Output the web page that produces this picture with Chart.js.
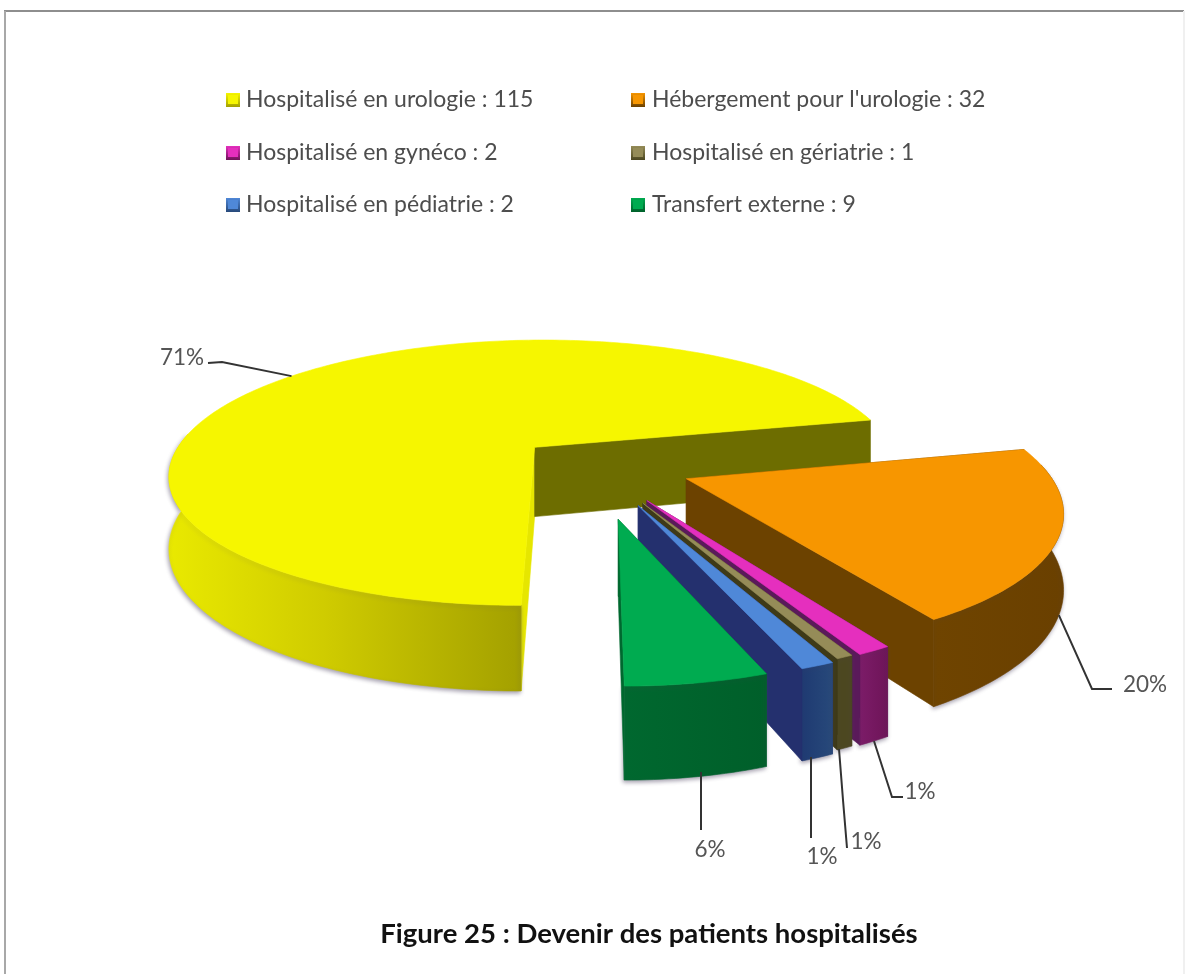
<!DOCTYPE html>
<html lang="fr">
<head>
<meta charset="utf-8">
<title>Devenir des patients hospitalisés</title>
<script src="https://cdn.jsdelivr.net/npm/chart.js@4"></script>
<style>html,body{margin:0;padding:0;background:#fff}canvas{display:block;filter:blur(0.5px)}</style>
</head>
<body>
<canvas id="c" width="1186" height="974"></canvas>
<script>
const categories = ["Hospitalisé en urologie","Hébergement pour l'urologie","Hospitalisé en gynéco","Hospitalisé en gériatrie","Hospitalisé en pédiatrie","Transfert externe"];
const values = [115,32,2,1,2,9];
const figureTitle = "Figure 25 : Devenir des patients hospitalisés";

/* styling and layout */
const topColors   = ["#f6f600","#f79600","#e52fbe","#958c58","#4f88d8","#00ab50"];
const wallLeft    = ["#e9e900","#6f4400","#7c1c68","#4c4720","#1f3a72","#00682f"];
const wallRight   = ["#a3a000","#6a4000","#6e1458","#4c4720","#27497a","#005f2a"];
const faceColors  = ["#6d6d00","#6c4200","#5a1a5a","#3e3a18","#24306e","#00682f"];
const sliverColors= ["#e6e600","#6c4200","#5a1a5a","#3e3a18","#24306e","#00682f"];
const explode     = [0.20,0.27,0.29,0.30,0.31,0.38];   // fraction of radius
const radiusScale = [0.98,0.96,0.935,0.92,0.92,0.85];
const RADIUS = 373, PERSP = 0.2, FLAT = 137, DEPTH = 71;
const legendCols = [[226,246],[631,652]], legendRows = [100,153,205];
// leader-line routing and text anchor for each percentage label
const leaders = [
  {from:"top",  elbow:[222,362], end:[208,363], text:[182,358]},
  {from:"wall", elbow:[1092,689], end:[1112,689], text:[1145,685]},
  {from:"wall", elbow:[892,797], end:[903,797], text:[920,792]},
  {start:[839,749], elbow:[843,800], end:[847,848], text:[866,842]},
  {start:[811,757], elbow:[811,800], end:[811,838], text:[822,857]},
  {start:[701,772], elbow:[701,800], end:[701,830], text:[710,850]}
];

const total = values.reduce((a,b)=>a+b,0);

function projector(el, i){
  return (a, r, z) => {
    const d = explode[i];
    const mid = (el.startAngle + el.endAngle)/2;
    const u = d*Math.cos(mid) + r*radiusScale[i]*Math.cos(a);
    const v = d*Math.sin(mid) + r*radiusScale[i]*Math.sin(a);
    const s = 1/(1 - PERSP*v);
    return [el.x + el.outerRadius*u*s, el.y + FLAT*v*s + z*DEPTH*s];
  };
}
function poly(ctx, pts, fill){
  ctx.beginPath();
  pts.forEach((p,k)=> k?ctx.lineTo(p[0],p[1]):ctx.moveTo(p[0],p[1]));
  ctx.closePath();
  ctx.fillStyle = fill; ctx.strokeStyle = fill; ctx.lineWidth = 0.6;
  ctx.fill(); ctx.stroke();
}
const pie3d = {
  id:'pie3d',
  beforeDraw(chart){
    const ctx = chart.ctx;
    ctx.save();
    ctx.fillStyle = '#fff'; ctx.fillRect(0,0,chart.width,chart.height);
    ctx.lineWidth = 2;
    ctx.strokeStyle = '#8e8e8e'; ctx.beginPath(); ctx.moveTo(4,11); ctx.lineTo(1184,11); ctx.stroke();
    ctx.strokeStyle = '#a8a8a8'; ctx.beginPath(); ctx.moveTo(5,11); ctx.lineTo(5,974); ctx.stroke();
    ctx.strokeStyle = '#f0f0f0'; ctx.beginPath(); ctx.moveTo(1184,11); ctx.lineTo(1184,974); ctx.stroke();
    ctx.restore();
  },
  beforeDatasetsDraw(chart){
    const ctx = chart.ctx, arcs = chart.getDatasetMeta(0).data;
    ctx.save();
    arcs.forEach((el,i)=>{
      const P = projector(el,i), a0 = el.startAngle, a1 = el.endAngle;
      const n = Math.max(2, Math.round((a1-a0)/(Math.PI/180)));
      const rimTop = [], wallTop = [], wallBot = [];
      for(let k=0;k<=n;k++){
        const a=a0+(a1-a0)*k/n, t=P(a,1,0);
        rimTop.push(t);
        if(Math.sin(a)>-0.12){ wallTop.push(t); wallBot.push(P(a,1,1)); }
      }
      const apex = P(0,0,0), apexB = P(0,0,1);
      poly(ctx,[apex,rimTop[0],P(a0,1,1),apexB],sliverColors[i]);
      const xs = wallTop.map(p=>p[0]);
      const minX = Math.min(...xs), maxX = Math.max(...xs);
      const g = ctx.createLinearGradient(minX,0,maxX,0);
      g.addColorStop(0,wallLeft[i]);
      if(i===0) g.addColorStop(0.45,'#cfcb00');
      g.addColorStop(1,wallRight[i]);
      ctx.shadowColor='rgba(70,60,90,0.5)'; ctx.shadowBlur=4; ctx.shadowOffsetY=2; ctx.shadowOffsetX=-1;
      poly(ctx,wallTop.concat(wallBot.slice().reverse()),g);
      ctx.shadowColor='transparent'; ctx.shadowBlur=0; ctx.shadowOffsetY=0; ctx.shadowOffsetX=0;
      poly(ctx,[apex,rimTop[n],P(a1,1,1),apexB],faceColors[i]);
      poly(ctx,[apex].concat(rimTop),topColors[i]);
    });
    ctx.restore();
    return false;
  },
  afterDraw(chart){
    const ctx = chart.ctx, arcs = chart.getDatasetMeta(0).data;
    ctx.save();
    ctx.textBaseline='middle'; ctx.textAlign='left';
    ctx.font='23px Lato';
    chart.data.labels.forEach((lab,i)=>{
      const col = legendCols[i%2], y = legendRows[Math.floor(i/2)];
      const g = ctx.createLinearGradient(0,y-7,0,y+7);
      g.addColorStop(0,topColors[i]); g.addColorStop(1,wallRight[i]);
      ctx.fillStyle=g; ctx.fillRect(col[0],y-7,14,14);
      ctx.fillStyle=topColors[i]; ctx.fillRect(col[0]+2,y-5,10,9);
      ctx.fillStyle='#4d4d4d';
      ctx.fillText(lab+' : '+values[i],col[1],y);
    });
    arcs.forEach((el,i)=>{
      const L = leaders[i], mid=(el.startAngle+el.endAngle)/2;
      const start = L.start || projector(el,i)(mid,1,L.from==='wall'?1:0);
      ctx.strokeStyle='#333'; ctx.lineWidth=2;
      ctx.beginPath(); ctx.moveTo(start[0],start[1]); ctx.lineTo(L.elbow[0],L.elbow[1]); ctx.lineTo(L.end[0],L.end[1]); ctx.stroke();
      ctx.fillStyle='#555'; ctx.font='22.5px Lato'; ctx.textAlign='center'; ctx.textBaseline='middle';
      ctx.fillText(Math.round(values[i]/total*100)+'%',L.text[0],L.text[1]);
    });
    ctx.fillStyle='#111'; ctx.font='bold 27.5px Lato'; ctx.textAlign='center';
    ctx.fillText(figureTitle,649,934);
    ctx.restore();
  }
};
new Chart(document.getElementById('c'),{
  type:'pie',
  data:{
    labels:categories.map(c=>c),
    datasets:[{data:values,backgroundColor:topColors,borderWidth:0,offset:0,radius:RADIUS}]
  },
  options:{
    responsive:false,animation:false,rotation:180,
    layout:{padding:{left:0,right:3,top:0,bottom:46}},
    plugins:{legend:{display:false},tooltip:{enabled:false},title:{display:false}}
  },
  plugins:[pie3d]
});
</script>
</body>
</html>
